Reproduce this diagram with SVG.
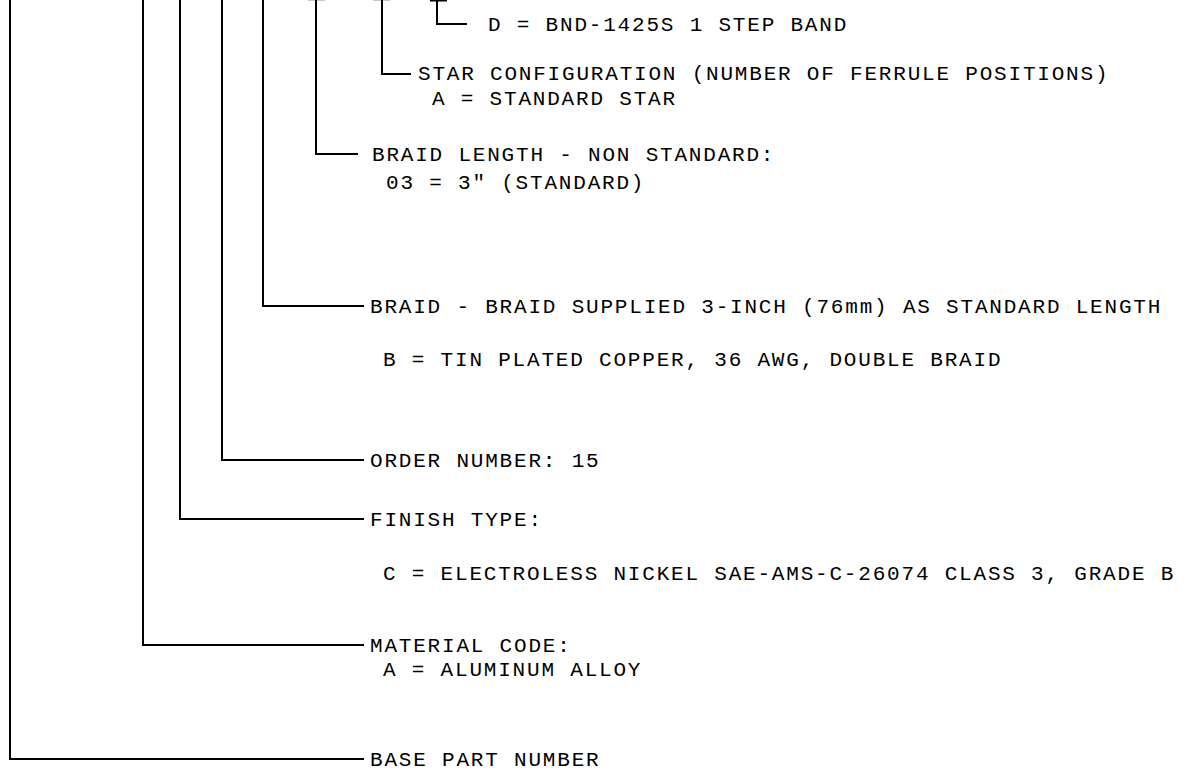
<svg xmlns="http://www.w3.org/2000/svg" width="1190" height="774" viewBox="0 0 1190 774">
<style>
.c{fill:none;stroke:#000;stroke-width:2}
.s{fill:none;stroke:#c8c8c8;stroke-width:1}
text{font-family:"Liberation Mono","DejaVu Sans Mono",monospace;font-size:21px;letter-spacing:1.8px;fill:#000}
</style>
<rect width="1190" height="774" fill="#fff"/>
<g id="connectors">
<path class="s" d="M308 0.5H325M373 0.5H390"/>
<path class="c" d="M430 0.5H447"/>
<path class="c" d="M437 0V24H467"/>
<path class="c" d="M382 0V74H411"/>
<path class="c" d="M316 0V154H358"/>
<path class="c" d="M263 0V306H364"/>
<path class="c" d="M222 0V460H364"/>
<path class="c" d="M180 0V519H364"/>
<path class="c" d="M143 0V645H364"/>
<path class="c" d="M10 0V759H364"/>
</g>
<g id="n-band"><text x="488" y="31">D = BND-1425S 1 STEP BAND</text></g>
<g id="n-star"><text x="418" y="80">STAR CONFIGURATION (NUMBER OF FERRULE POSITIONS)</text><text x="432" y="105">A = STANDARD STAR</text></g>
<g id="n-length"><text x="372" y="161">BRAID LENGTH - NON STANDARD:</text><text x="386" y="189">03 = 3″ (STANDARD)</text></g>
<g id="n-braid"><text x="370" y="313">BRAID - BRAID SUPPLIED 3-INCH (76mm) AS STANDARD LENGTH</text><text x="383" y="366">B = TIN PLATED COPPER, 36 AWG, DOUBLE BRAID</text></g>
<g id="n-order"><text x="370" y="467">ORDER NUMBER: 15</text></g>
<g id="n-finish"><text x="370" y="526">FINISH TYPE:</text><text x="383" y="580">C = ELECTROLESS NICKEL SAE-AMS-C-26074 CLASS 3, GRADE B</text></g>
<g id="n-material"><text x="370" y="652">MATERIAL CODE:</text><text x="383" y="676">A = ALUMINUM ALLOY</text></g>
<g id="n-base"><text x="370" y="766">BASE PART NUMBER</text></g>
</svg>
